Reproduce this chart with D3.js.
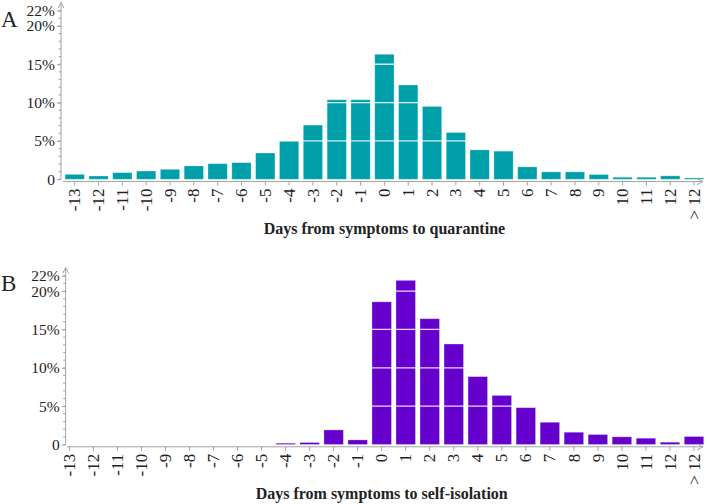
<!DOCTYPE html>
<html><head><meta charset="utf-8">
<script src="https://cdn.jsdelivr.net/npm/d3@7"></script>
<style>body{margin:0;background:#fff}svg{display:block}</style>
</head><body>
<svg id="c" width="707" height="504"></svg>
<script>
const categories = ["-13","-12","-11","-10","-9","-8","-7","-6","-5","-4","-3","-2","-1","0","1","2","3","4","5","6","7","8","9","10","11","12","> 12"];
const quarantine = [0.65,0.43,0.87,1.08,1.3,1.74,2.04,2.17,3.43,4.99,7.07,10.37,10.37,16.3,12.3,9.5,6.1,3.84,3.67,1.62,0.97,0.97,0.62,0.27,0.27,0.45,0.18];
const isolation = [0,0,0,0,0,0,0,0,0,0.17,0.26,1.9,0.6,18.6,21.4,16.4,13.1,8.85,6.4,4.8,2.9,1.6,1.3,1.0,0.82,0.3,1.04];
const yTicks = [0,5,10,15,20,22];
const gridVals = [5,10,15,20];
const titles = ["Days from symptoms to quarantine","Days from symptoms to self-isolation"];
const letters = ["A","B"];

const svg = d3.select("#c");
const serif = "'Liberation Serif','DejaVu Serif',serif";
const axisCol = "#a3a3a3";

function panel(o){
  const g = svg.append("g");
  const x = d3.scaleBand().domain(categories).range([o.x0, o.x1]).paddingInner(0.19).paddingOuter(0.095);
  const y = d3.scaleLinear().domain([0,22]).range([o.base, o.base - 22*7.67]);
  g.selectAll("rect.bar").data(o.values.map((v,i)=>({c:categories[i],v}))).join("rect")
    .attr("x", d=>x(d.c)).attr("width", x.bandwidth())
    .attr("y", d=>y(d.v)).attr("height", d=>y(0)-y(d.v))
    .attr("fill", o.color).attr("stroke","#fff").attr("stroke-opacity",0.35).attr("stroke-width",0.8);
  g.selectAll("line.grid").data(gridVals).join("line")
    .attr("x1", o.x0).attr("x2", o.x1).attr("y1", d=>y(d)).attr("y2", d=>y(d))
    .attr("stroke","#fff").attr("stroke-opacity",0.85).attr("stroke-width",1.3);
  const ya = g.append("g").attr("transform",`translate(${o.yx},0)`);
  ya.call(d3.axisLeft(y).tickValues(yTicks).tickSize(4).tickPadding(2).tickFormat(d=>d===0?"0":d+"%"));
  ya.select(".domain").remove();
  ya.selectAll(".tick line").attr("stroke",axisCol);
  ya.selectAll(".tick text").attr("font-family",serif).attr("font-size",15.5).attr("fill","#222");
  ya.selectAll("line.minor").data(d3.range(0,23)).join("line").attr("class","minor")
    .attr("x1",-2.5).attr("x2",0).attr("y1",d=>y(d)).attr("y2",d=>y(d)).attr("stroke",axisCol);
  ya.append("line").attr("x1",0).attr("x2",0).attr("y1",y(0)).attr("y2",o.base-176).attr("stroke",axisCol);
  ya.append("path").attr("d",`M-3,${o.base-171}L0,${o.base-177}L3,${o.base-171}`).attr("fill","none").attr("stroke",axisCol);
  const ax = o.base + 2.3;
  const xa = g.append("g").attr("transform",`translate(0,${ax})`);
  xa.call(d3.axisBottom(x).tickSize(4).tickPadding(3));
  xa.select(".domain").remove();
  xa.append("line").attr("x1",o.xs).attr("x2",703).attr("y1",0).attr("y2",0).attr("stroke",axisCol);
  xa.append("path").attr("d","M697,-3L703,0L697,3").attr("fill","none").attr("stroke",axisCol);
  xa.selectAll(".tick line").attr("stroke",axisCol);
  xa.selectAll(".tick text").attr("font-family",serif).attr("font-size",17).attr("fill","#222")
    .attr("transform","rotate(-90)").attr("text-anchor","end").attr("dy","0.33em").attr("x",-7).attr("y",0);
  g.append("text").attr("x",(o.x0+o.x1)/2).attr("y",ax+52).attr("text-anchor","middle")
    .attr("font-family",serif).attr("font-weight","bold").attr("font-size",16).attr("fill","#222").text(o.title);
  g.append("text").attr("x",1).attr("y",o.letterY).attr("font-family",serif).attr("font-size",23).attr("fill","#222").text(o.letter);
}

panel({x0:62.8,x1:706,base:179.3,yx:61,xs:63,values:quarantine,color:"#00a0aa",title:titles[0],letter:letters[0],letterY:27});
panel({x0:57.4,x1:706,base:444.5,yx:65.7,xs:67,values:isolation,color:"#6600cc",title:titles[1],letter:letters[1],letterY:291});
</script>
</body></html>
